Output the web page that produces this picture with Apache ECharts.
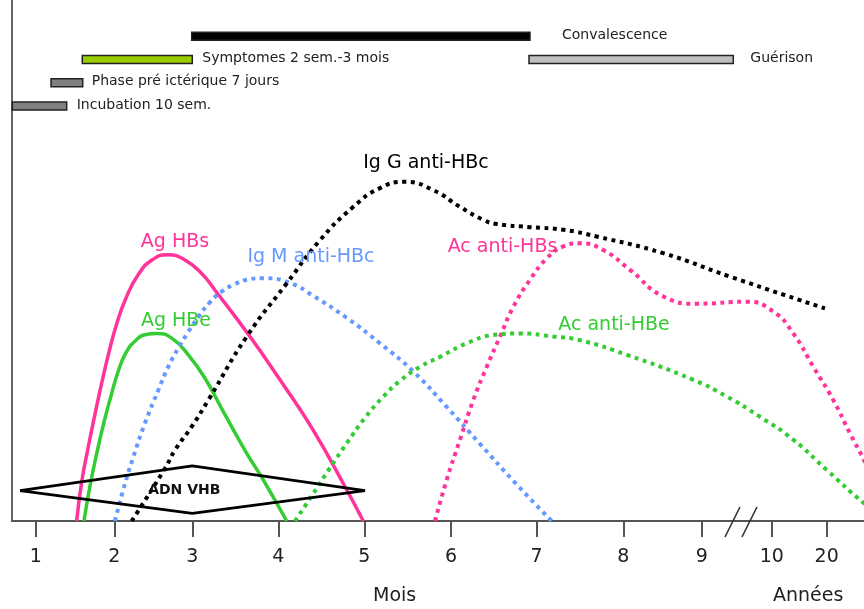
<!DOCTYPE html>
<html><head><meta charset="utf-8">
<script src="https://cdn.jsdelivr.net/npm/echarts@6/dist/echarts.min.js"></script>
<style>html,body{margin:0;padding:0;background:#fff}#c{width:864px;height:609px}</style>
</head><body><div id="c"></div>
<script>
// ---- data (x in axis-position units of the hand-drawn time scale; y = relative level 0..100) ----
const xTickValues = [1.0, 1.921, 2.836, 3.846, 4.855, 5.873, 6.878, 7.895, 8.815, 9.637, 10.282];
const xTickLabels = ['1','2','3','4','5','6','7','8','9','10','20'];

const agHBs = [[1.479,0],[1.538,7.5],[1.615,14.2],[1.694,20.5],[1.776,26.7],[1.858,32.4],[1.952,38.0],[2.058,42.8],[2.199,47.2],[2.363,50.1],[2.554,51.1],[2.750,50.1],[2.946,47.5],[3.103,44.3],[3.513,35.4],[3.865,27.1],[4.253,17.5],[4.648,6.0],[4.843,0]];
const agHBe = [[1.565,0],[1.635,6.7],[1.718,13.2],[1.800,19.0],[1.882,24.0],[1.964,28.6],[2.058,32.3],[2.175,34.7],[2.293,35.8],[2.418,36.0],[2.594,35.1],[2.789,31.9],[2.985,27.4],[3.220,20.4],[3.475,13.0],[3.669,7.9],[3.944,0]];
const igmAntiHBc = [[1.929,0],[2.026,6.0],[2.144,12.3],[2.281,18.8],[2.437,25.1],[2.554,29.6],[2.672,33.2],[2.789,36.3],[2.907,39.2],[3.044,42.0],[3.185,44.1],[3.326,45.4],[3.475,46.3],[3.669,46.6],[3.983,45.7],[4.256,43.2],[4.648,39.0],[5.039,34.1],[5.430,28.7],[5.822,21.9],[6.213,14.8],[6.604,7.7],[7.054,0]];
const iggAntiHBc = [[2.125,0],[2.516,10.1],[2.633,13.6],[2.829,18.1],[3.024,23.2],[3.475,35.4],[3.944,45.6],[4.335,53.9],[4.726,60.3],[5.039,63.9],[5.333,65.1],[5.665,63.5],[5.978,60.3],[6.252,57.8],[6.409,57.0],[6.800,56.4],[7.191,55.9],[7.583,54.6],[8.364,51.4],[9.147,46.9],[10.262,40.8]];
const acAntiHBs = [[5.685,0],[5.822,7.9],[5.978,15.6],[6.134,23.2],[6.292,29.6],[6.448,35.4],[6.604,41.1],[6.800,46.3],[6.996,50.4],[7.191,52.7],[7.387,53.3],[7.660,52.0],[7.973,48.2],[8.364,43.1],[8.756,41.7],[9.343,42.1],[9.655,40.2],[9.890,36.0],[10.125,29.6],[10.360,23.2],[10.556,16.8],[10.720,11.7],[10.884,6.0]];
const acAntiHBe = [[4.042,0],[4.253,5.2],[4.452,10.2],[4.652,15.0],[4.863,19.8],[5.074,23.8],[5.274,26.9],[5.509,29.6],[5.743,31.5],[6.057,34.1],[6.369,35.7],[6.682,36.0],[7.073,35.4],[7.387,34.7],[7.935,31.9],[8.716,27.1],[9.109,23.9],[9.499,20.0],[9.890,15.6],[10.282,9.8],[10.720,3.4],[10.908,1.2]];
const adnVHB = [[0.814,5.82],[2.836,10.56],[4.863,5.82],[2.836,1.48],[0.814,5.82]];

const phaseNames = ['Convalescence','Symptomes 2 sem.-3 mois','Guérison','Phase pré ictérique 7 jours','Incubation 10 sem.'];
const phaseStart = [2.829, 1.545, 6.788, 1.178, 0.7235];
const phaseEnd   = [6.800, 2.836, 9.186, 1.550, 1.362];
const phaseRow   = [0, 1, 1, 2, 3];
const phaseRows  = ['Convalescence','Symptomes / Guérison','Phase pré ictérique','Incubation'];

const breakAt = [9.276];

// ---- styling ----
const FONT = 'DejaVu Sans';
const phaseStyle = {
  'Convalescence': {fill:'#000000', gap:32},
  'Symptomes 2 sem.-3 mois': {fill:'#99cc00', gap:10},
  'Guérison': {fill:'#c0c0c0', gap:17},
  'Phase pré ictérique 7 jours': {fill:'#808080', gap:9},
  'Incubation 10 sem.': {fill:'#808080', gap:10}
};

function curve(name, data, color, dotted, labelAt) {
  return {
    type:'line', name, data, xAxisIndex:0, yAxisIndex:0,
    smooth:0.5, symbol:'none', showSymbol:false, z:3,
    lineStyle:{color, width: dotted ? 4 : 3.5, type: dotted ? [4,4.5] : 'solid', cap:'butt'},
    markPoint:{
      symbol:'circle', symbolSize:0, itemStyle:{color:'rgba(0,0,0,0)'},
      data:[{coord: labelAt, value: name}],
      label:{show:true, position:'inside', formatter: name, color, fontSize:19, fontFamily:FONT}
    }
  };
}

const chart = echarts.init(document.getElementById('c'), null, {renderer:'canvas'});
chart.setOption({
  animation:false,
  backgroundColor:'#ffffff',
  grid:[
    {left:12, right:0, top:0, bottom:88},
    {left:12, right:0, top:24.5, height:93}
  ],
  xAxis:[
    {type:'value', gridIndex:0, min:0.72, max:10.72,
     splitLine:{show:false},
     axisLine:{lineStyle:{color:'#555', width:2}},
     axisTick:{customValues:xTickValues, length:16, lineStyle:{color:'#555', width:2}},
     axisLabel:{customValues:xTickValues, margin:27, fontSize:19, color:'#222', fontFamily:FONT,
       formatter:function(v){let b=0;for(let i=1;i<xTickValues.length;i++){if(Math.abs(xTickValues[i]-v)<Math.abs(xTickValues[b]-v))b=i;}return xTickLabels[b];}}
    },
    {type:'value', gridIndex:1, min:0.72, max:10.72, show:false}
  ],
  yAxis:[
    {type:'value', gridIndex:0, min:0, max:100, splitLine:{show:false},
     axisLine:{show:true, lineStyle:{color:'#666', width:2}}, axisTick:{show:false}, axisLabel:{show:false}},
    {type:'category', gridIndex:1, data:phaseRows, inverse:true, show:false}
  ],
  series:[
    {
      type:'custom', name:'phases', xAxisIndex:1, yAxisIndex:1, z:5,
      data: phaseNames.map((n,i)=>[phaseStart[i], phaseEnd[i], phaseRow[i], n]),
      renderItem:function(params, api){
        const n = phaseNames[params.dataIndex];
        const st = phaseStyle[n];
        const s = api.coord([api.value(0), api.value(2)]);
        const e = api.coord([api.value(1), api.value(2)]);
        const h = 8;
        return {type:'group', children:[
          {type:'rect', shape:{x:s[0], y:s[1]-h/2, width:e[0]-s[0], height:h},
           style:{fill:st.fill, stroke:'#222', lineWidth:1.5}},
          {type:'text', style:{text:n, x:e[0]+st.gap, y:s[1]-1, verticalAlign:'middle', align:'left',
           font:'14px "DejaVu Sans"', fill:'#222'}}
        ]};
      }
    },
    {
      type:'line', name:'ADN VHB', data:adnVHB, smooth:false, symbol:'none', z:4,
      lineStyle:{color:'#000', width:2.8},
      markPoint:{symbol:'circle', symbolSize:0, itemStyle:{color:'rgba(0,0,0,0)'},
        data:[{coord:[2.742,5.82], value:'ADN VHB'}],
        label:{show:true, position:'inside', formatter:'ADN VHB', color:'#111', fontSize:14, fontWeight:'bold', fontFamily:FONT}}
    },
    curve('Ag HBs', agHBs, '#ff3399', false, [2.633,53.61]),
    curve('Ag HBe', agHBe, '#33cc33', false, [2.645,38.39]),
    curve('Ig M anti-HBc', igmAntiHBc, '#6699ff', true, [4.229,50.73]),
    curve('Ig G anti-HBc', iggAntiHBc, '#000000', true, [5.579,68.66]),
    curve('Ac anti-HBs', acAntiHBs, '#ff3399', true, [6.477,52.65]),
    curve('Ac anti-HBe', acAntiHBe, '#33cc33', true, [7.786,37.62]),
    {
      type:'custom', name:'break', xAxisIndex:0, yAxisIndex:0, clip:false, z:6,
      data: breakAt.map(v=>[v,0]),
      renderItem:function(params, api){
        const p = api.coord([api.value(0), 0]);
        const ls = {stroke:'#333', lineWidth:1.6};
        return {type:'group', children:[
          {type:'line', shape:{x1:p[0]-16, y1:p[1]+16, x2:p[0]-1, y2:p[1]-14}, style:ls},
          {type:'line', shape:{x1:p[0]+1, y1:p[1]+16, x2:p[0]+16, y2:p[1]-14}, style:ls}
        ]};
      }
    }
  ],
  graphic:[
    {type:'text', left:373, top:587, style:{text:'Mois', font:'19px "DejaVu Sans"', fill:'#222'}},
    {type:'text', left:773, top:587, style:{text:'Années', font:'19px "DejaVu Sans"', fill:'#222'}}
  ]
});
</script></body></html>
